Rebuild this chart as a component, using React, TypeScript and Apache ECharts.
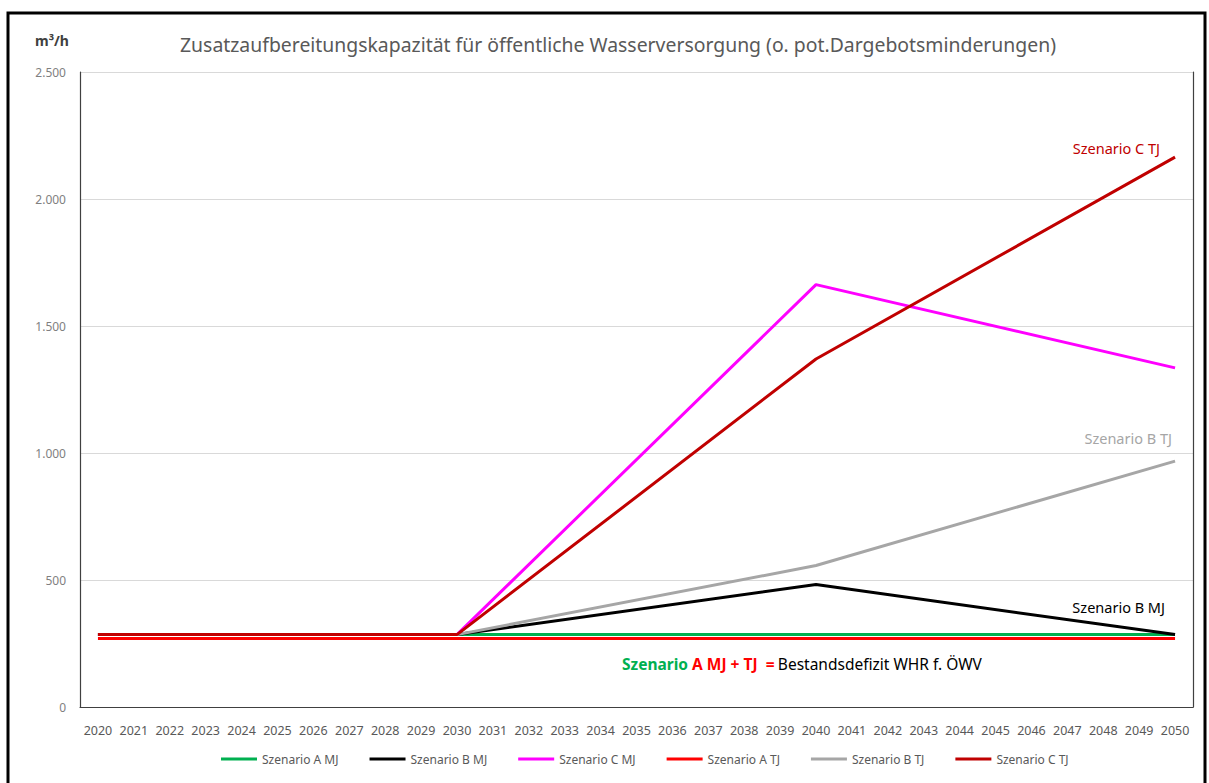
import React, { useEffect, useRef } from "react";
import * as echarts from "echarts";

const years = [
  "2020", "2021", "2022", "2023", "2024", "2025", "2026", "2027", "2028", "2029",
  "2030", "2031", "2032", "2033", "2034", "2035", "2036", "2037", "2038", "2039",
  "2040", "2041", "2042", "2043", "2044", "2045", "2046", "2047", "2048", "2049",
  "2050",
];

const N = null;

// values read at 2020 ... 2030 (flat), 2040 and 2050; straight segments in between
const szenarioAMJ = [
  285, 285, 285, 285, 285, 285, 285, 285, 285, 285,
  285, 285, 285, 285, 285, 285, 285, 285, 285, 285,
  285, 285, 285, 285, 285, 285, 285, 285, 285, 285,
  285,
];
const szenarioBMJ = [
  285, 285, 285, 285, 285, 285, 285, 285, 285, 285,
  285, N, N, N, N, N, N, N, N, N,
  482, N, N, N, N, N, N, N, N, N,
  285,
];
const szenarioCMJ = [
  285, 285, 285, 285, 285, 285, 285, 285, 285, 285,
  285, N, N, N, N, N, N, N, N, N,
  1663, N, N, N, N, N, N, N, N, N,
  1335,
];
const szenarioATJ = [
  270, 270, 270, 270, 270, 270, 270, 270, 270, 270,
  270, 270, 270, 270, 270, 270, 270, 270, 270, 270,
  270, 270, 270, 270, 270, 270, 270, 270, 270, 270,
  270,
];
const szenarioBTJ = [
  285, 285, 285, 285, 285, 285, 285, 285, 285, 285,
  285, N, N, N, N, N, N, N, N, N,
  557, N, N, N, N, N, N, N, N, N,
  968,
];
const szenarioCTJ = [
  285, 285, 285, 285, 285, 285, 285, 285, 285, 285,
  285, N, N, N, N, N, N, N, N, N,
  1370, N, N, N, N, N, N, N, N, N,
  2165,
];

const seriesNames = [
  "Szenario A MJ",
  "Szenario B MJ",
  "Szenario C MJ",
  "Szenario A TJ",
  "Szenario B TJ",
  "Szenario C TJ",
];
const seriesData = [szenarioAMJ, szenarioBMJ, szenarioCMJ, szenarioATJ, szenarioBTJ, szenarioCTJ];
const seriesColors = ["#00b050", "#000000", "#ff00ff", "#ff0000", "#a6a6a6", "#c00000"];

const yMin = 0;
const yMax = 2500;
const yStep = 500;

const titleText =
  "Zusatzaufbereitungskapazität für öffentliche Wasserversorgung (o. pot.Dargebotsminderungen)";
const unitText = "m³/h";

const FONT = "'Noto Sans', sans-serif";

function fmt(v: number): string {
  if (v >= 1000) {
    const th = Math.floor(v / 1000);
    const rest = String(v % 1000).padStart(3, "0");
    return th + "." + rest;
  }
  return String(v);
}

export default function App() {
  const ref = useRef<HTMLDivElement>(null);
  useEffect(() => {
    const chart = echarts.init(ref.current!, null, { renderer: "svg" });
    chart.setOption({
      animation: false,
      backgroundColor: "#ffffff",
      textStyle: { fontFamily: FONT },
      grid: { left: 80, right: 16, top: 72, bottom: 76, containLabel: false },
      xAxis: [
        {
          type: "category",
          data: years,
          boundaryGap: true,
          axisLine: { show: false },
          axisTick: { show: false },
          axisLabel: {
            interval: 0,
            color: "#595959",
            fontSize: 12.5,
            fontFamily: FONT,
            margin: 17,
          },
        },
        {
          type: "category",
          data: years,
          position: "top",
          axisLine: { show: true, lineStyle: { color: "#404040", width: 1.2 } },
          axisTick: { show: false },
          axisLabel: { show: false },
        },
      ],
      yAxis: [
        {
          type: "value",
          min: yMin,
          max: yMax,
          interval: yStep,
          axisLine: { show: true, lineStyle: { color: "#404040", width: 1.2 } },
          axisTick: { show: false },
          axisLabel: {
            color: "#7f7f7f",
            fontSize: 12,
            fontFamily: FONT,
            margin: 14,
            formatter: (v: number) => fmt(v),
          },
          splitLine: { show: true, lineStyle: { color: "#d9d9d9", width: 1 } },
        },
        {
          type: "value",
          min: yMin,
          max: yMax,
          interval: yStep,
          position: "right",
          axisLine: { show: true, lineStyle: { color: "#404040", width: 1.2 } },
          axisTick: { show: false },
          axisLabel: { show: false },
          splitLine: { show: false },
        },
      ],
      legend: {
        data: seriesNames,
        left: 216,
        top: 748,
        icon: "rect",
        itemWidth: 36,
        itemHeight: 3,
        itemGap: 31,
        textStyle: { color: "#595959", fontSize: 12, fontFamily: FONT },
      },
      series: seriesNames.map((name, i) => ({
        name,
        type: "line",
        xAxisIndex: 0,
        yAxisIndex: 0,
        data: seriesData[i],
        connectNulls: true,
        showSymbol: false,
        symbol: "none",
        lineStyle: { color: seriesColors[i], width: 3 },
        itemStyle: { color: seriesColors[i] },
        z: 2 + i,
      })),
      graphic: [
        {
          type: "rect",
          shape: { x: 8, y: 13, width: 1197, height: 800 },
          style: { fill: "none", stroke: "#000000", lineWidth: 3 },
          silent: true,
        },
        {
          type: "text",
          x: 618,
          y: 44,
          style: {
            text: titleText,
            fill: "#595959",
            fontSize: 19.4,
            fontFamily: FONT,
            align: "center",
            verticalAlign: "middle",
          },
        },
        {
          type: "text",
          x: 35,
          y: 40,
          style: {
            text: unitText,
            fill: "#404040",
            fontSize: 14,
            fontWeight: "bold",
            fontFamily: FONT,
            align: "left",
            verticalAlign: "middle",
          },
        },
        {
          type: "text",
          x: 1160,
          y: 148,
          style: {
            text: "Szenario C TJ",
            fill: "#c00000",
            fontSize: 14.5,
            fontFamily: FONT,
            align: "right",
            verticalAlign: "middle",
          },
        },
        {
          type: "text",
          x: 1172,
          y: 438,
          style: {
            text: "Szenario B TJ",
            fill: "#a6a6a6",
            fontSize: 14.5,
            fontFamily: FONT,
            align: "right",
            verticalAlign: "middle",
          },
        },
        {
          type: "text",
          x: 1165,
          y: 607,
          style: {
            text: "Szenario B MJ",
            fill: "#000000",
            fontSize: 14.5,
            fontFamily: FONT,
            align: "right",
            verticalAlign: "middle",
          },
        },
        {
          type: "text",
          x: 622,
          y: 664,
          style: {
            text: "{g|Szenario }{r|A MJ + TJ  =} {k|Bestandsdefizit WHR f. ÖWV}",
            align: "left",
            verticalAlign: "middle",
            rich: {
              g: { fill: "#00b050", fontSize: 15.5, fontWeight: "bold", fontFamily: FONT },
              r: { fill: "#ff0000", fontSize: 15.5, fontWeight: "bold", fontFamily: FONT },
              k: { fill: "#000000", fontSize: 15.5, fontFamily: FONT },
            },
          },
        },
      ],
    });
    return () => chart.dispose();
  }, []);
  return (
    <div
      ref={ref}
      style={{ position: "fixed", left: 0, top: 0, width: 1209, height: 783, background: "#fff" }}
    />
  );
}
